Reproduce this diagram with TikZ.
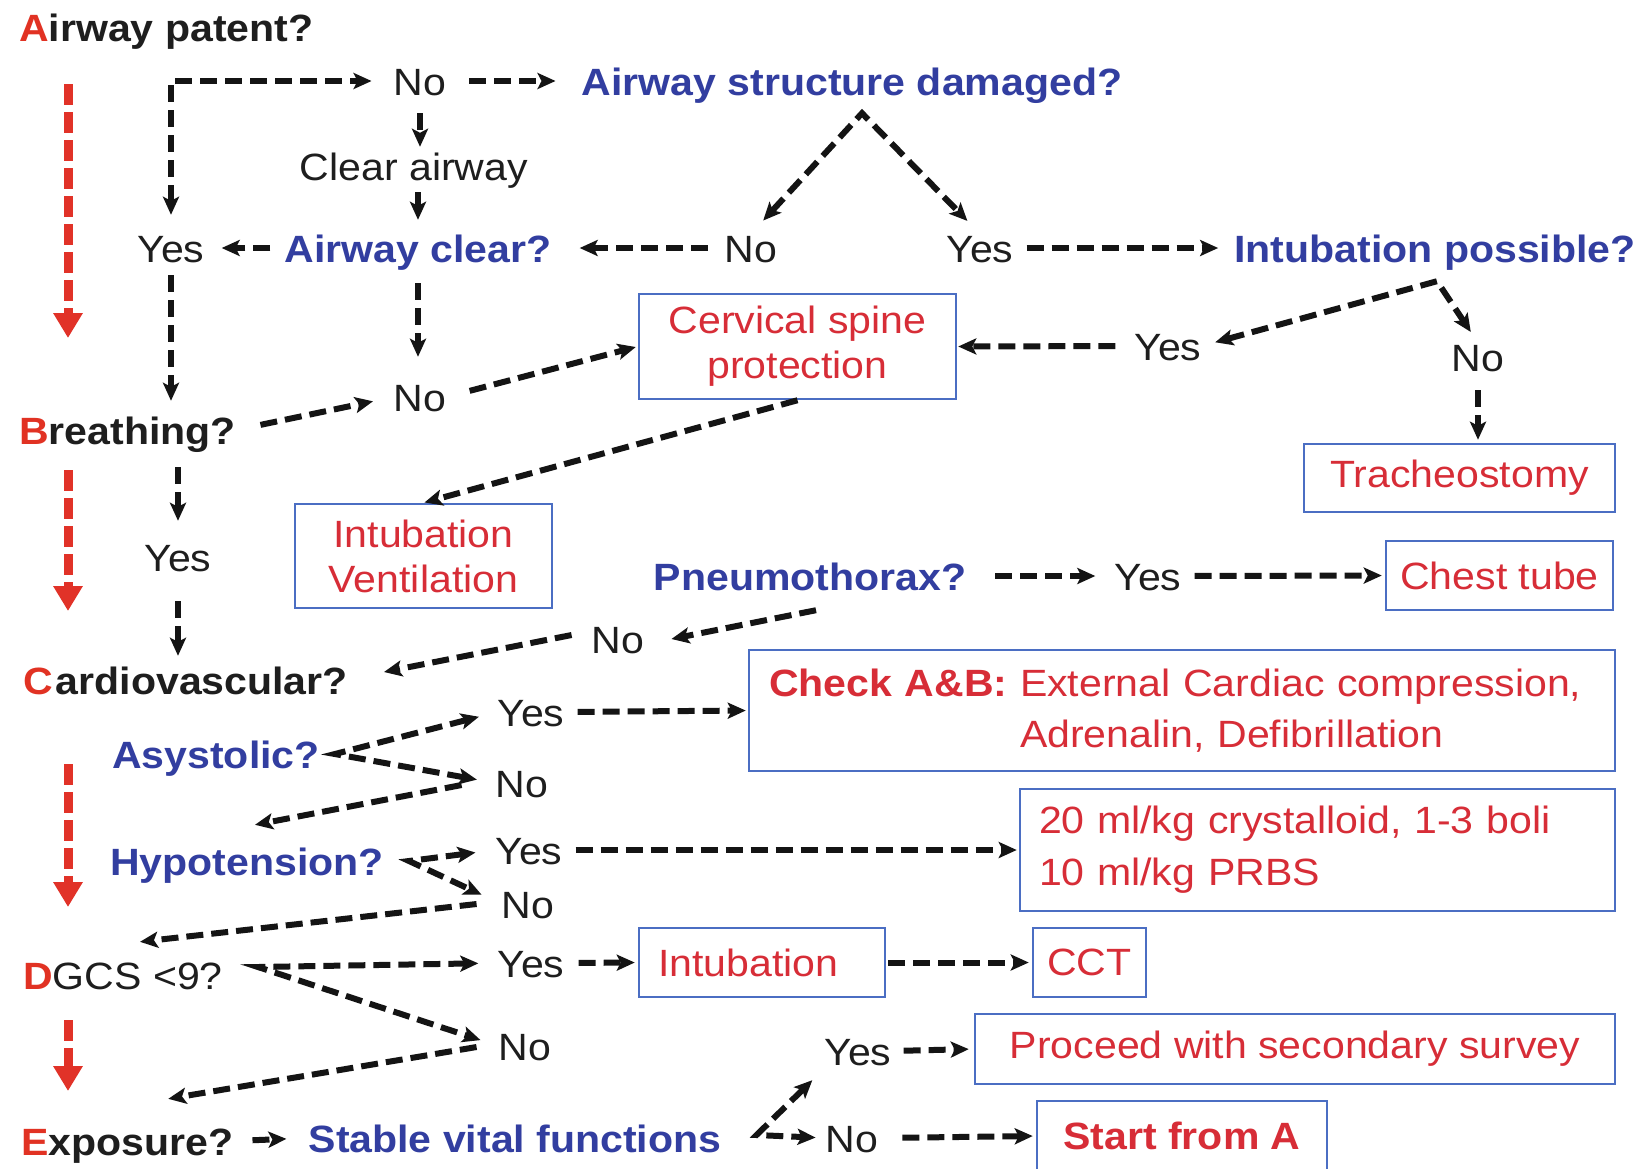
\documentclass[tikz,border=0pt]{standalone}
\usepackage{fontspec}
\setmainfont{Liberation Sans}[FakeStretch=1.08]
\usetikzlibrary{arrows.meta,calc}
\definecolor{qblue}{RGB}{50,62,160}
\definecolor{tred}{RGB}{225,50,35}
\definecolor{bred}{RGB}{215,45,55}
\definecolor{bblue}{RGB}{75,110,195}
\definecolor{txt}{RGB}{30,30,30}
\definecolor{arrred}{RGB}{225,50,40}
\definecolor{arrblk}{RGB}{20,20,20}
\begin{document}
\begin{tikzpicture}[x=1pt,y=-1pt,
  font=\fontsize{38}{45}\selectfont,
  >={Stealth[length=18pt,width=16pt,inset=4pt]},
  lbl/.style={inner sep=0pt, text height=28pt, text depth=0pt, text=txt},
  ttl/.style={lbl, font=\fontsize{38}{45}\selectfont\bfseries, anchor=west},
  q/.style={lbl, font=\fontsize{38}{45}\selectfont\bfseries, text=qblue},
  box/.style={draw=bblue, line width=2.5pt, inner sep=0pt, text=bred, align=center},
  darr/.style={draw=arrblk, line width=6pt, dash pattern=on 17pt off 8pt, ->},
  rarr/.style={draw=arrred, line width=9pt, dash pattern=on 21pt off 7pt, -{Triangle[length=25pt,width=28pt]}}]
\fill[white] (0,0) rectangle (1645,1168);
\useasboundingbox (0,0) rectangle (1645,1168);

% ---- nodes ----
\node[ttl] (tA) at (19,27) {\textcolor{tred}{A}irway patent?};
\node[lbl] (noA) at (420,81) {No};
\node[q] (asd) at (852,81) {Airway structure damaged?};
\node[lbl] (clear) at (414,166) {Clear airway};
\node[q] (ac) at (418,248) {Airway clear?};
\node[lbl] (yesA) at (171,248) {Yes};
\node[lbl] (noD) at (751,248) {No};
\node[lbl] (yesD) at (980,248) {Yes};
\node[q] (ip) at (1435,248) {Intubation possible?};
\node[lbl] (noB) at (420,397) {No};
\node[ttl] (breath) at (19,430) {\textcolor{tred}{B}reathing?};
\node[box, minimum width=317pt, minimum height=105pt] (csp) at (797.5,346.5) {Cervical spine\\protection};
\node[lbl] (yesI) at (1168,346) {Yes};
\node[lbl] (noI) at (1478,357) {No};
\node[box, minimum width=311pt, minimum height=68pt] (trach) at (1459.5,478) {Tracheostomy};
\node[box, minimum width=257pt, minimum height=104pt] (iv) at (423.5,556) {Intubation\\Ventilation};
\node[lbl] (yesB) at (178,557) {Yes};
\node[ttl] (card) at (23,680) {\textcolor{tred}{C}\kern3pt ardiovascular?};
\node[q] (pneu) at (810,576) {Pneumothorax?};
\node[lbl] (yesP) at (1148,576) {Yes};
\node[box, minimum width=227pt, minimum height=69pt] (chest) at (1499.5,575.5) {Chest tube};
\node[lbl] (noP) at (618,639) {No};
\node[q, anchor=west] (asys) at (112,754) {Asystolic?};
\node[lbl] (yesC) at (531,712) {Yes};
\node[lbl] (noC) at (522,783) {No};
\node[box, minimum width=866pt, minimum height=121pt, text width=826pt, inner xsep=20pt, align=left] (chk) at (1182,710.5)
  {\textbf{Check A\&B:} External Cardiac compression,\\[6pt]\hphantom{\textbf{Check A\&B:}\ }Adrenalin, Defibrillation};
\node[q, anchor=west] (hypo) at (110,861) {Hypotension?};
\node[lbl] (yesH) at (529,850) {Yes};
\node[lbl] (noH) at (528,904) {No};
\node[box, minimum width=595pt, minimum height=122pt, text width=557pt, inner xsep=19pt, align=left] (fluid) at (1317.5,850)
  {20 ml/kg crystalloid, 1-3 boli\\[7pt]10 ml/kg PRBS};
\node[ttl, font=\fontsize{38}{45}\selectfont] (dgcs) at (23,975) {\textcolor{tred}{\bfseries D}GCS <9?};
\node[lbl] (yesG) at (531,963) {Yes};
\node[lbl] (noG) at (525,1046) {No};
\node[box, minimum width=246pt, minimum height=69pt, text width=208pt, inner xsep=19pt, align=left] (intu) at (762,962.5) {Intubation};
\node[box, minimum width=113pt, minimum height=69pt] (cct) at (1089.5,962.5) {CCT};
\node[ttl] (expo) at (21,1141) {\textcolor{tred}{E}xposure?};
\node[q] (stable) at (515,1138) {Stable vital functions};
\node[lbl] (yesS) at (858,1051) {Yes};
\node[lbl] (noS) at (852,1138) {No};
\node[box, minimum width=640pt, minimum height=70pt] (proc) at (1295,1049) {Proceed with secondary survey};
\node[box, minimum width=290pt, minimum height=70pt, font=\fontsize{38}{45}\selectfont\bfseries] (start) at (1182,1136) {Start from A};

% ---- red ABCDE arrows ----
\coordinate (r1s) at (68,84);   \coordinate (r1e) at (68,338);
\coordinate (r2s) at (68,470);  \coordinate (r2e) at (68,611);
\coordinate (r3s) at (68,764);  \coordinate (r3e) at (68,907);
\coordinate (r4s) at (68,1020); \coordinate (r4e) at (68,1091);
\draw[rarr] (r1s) -- (r1e);
\draw[rarr] (r2s) -- (r2e);
\draw[rarr] (r3s) -- (r3e);
\draw[rarr] (r4s) -- (r4e);

% ---- connectors ----
\draw[darr,<->,shorten <=19pt,shorten >=22pt] (yesA.north) |- (noA.west);
\draw[darr,shorten <=23pt,shorten >=26pt] (noA.east) -- (asd.west);
\draw[darr,shorten <=18pt,shorten >=5pt] (noA.south) -- (noA.south |- clear.north);
\draw[darr,shorten <=12pt,shorten >=14pt] (ac.north |- clear.south) -- (ac.north);
\draw[darr,shorten <=14pt,shorten >=17pt] (ac.west) -- (yesA.east);
\draw[darr,shorten <=17pt,shorten >=28pt] (noD.west) -- (ac.east);
\draw[darr,shorten <=13pt,shorten >=16pt] (yesD.east) -- (ip.west);
\coordinate (apxD) at ([shift={(10,18)}]asd.south);
\draw[darr,<->,shorten <=18pt,shorten >=18pt] (noD.north) -- (apxD) -- (yesD.north);
\draw[darr,shorten <=21pt,shorten >=26pt] (ac.south) -- (ac.south |- noB.north);
\draw[darr,shorten <=13pt,shorten >=15pt] (yesA.south) -- (yesA.south |- breath.north);
\draw[darr,shorten <=25pt,shorten >=21pt] (breath.east) -- (noB.west);
\draw[darr,shorten <=24pt,shorten >=2pt] (noB.east) -- (csp.west);
\draw[darr,shorten <=19pt,shorten >=1pt] (yesI.west) -- (csp.east);
\coordinate (apxI) at ([shift={(2,19)}]ip.south);
\draw[darr,<->,shorten <=14pt,shorten >=13pt] (yesI.east) -- (apxI) -- (noI.north);
\draw[darr,shorten <=19pt,shorten >=3pt] (noI.south) -- (noI.south |- trach.north);
\draw[darr,shorten >=1pt] (csp.south) -- (iv.north);
\draw[darr,shorten <=23pt,shorten >=22pt] (yesB.north |- breath.south) -- (yesB.north);
\draw[darr,shorten <=30pt,shorten >=10pt] (yesB.south) -- (yesB.south |- card.north);
\draw[darr,shorten <=29pt,shorten >=19pt] (pneu.east) -- (yesP.west);
\draw[darr,shorten <=13pt,shorten >=3pt] (yesP.east) -- (chest.west);
\draw[darr] ([shift={(6,20)}]pneu.south) -- ([shift={(27,0)}]noP.east);
\draw[darr] ([shift={(-20,-4)}]noP.west) -- ([shift={(36,-8)}]card.east);
\coordinate (apxC) at ([shift={(15,0)}]asys.east);
\draw[darr,<->,shorten <=19pt,shorten >=19pt] (yesC.west) -- (apxC) -- (noC.west);
\draw[darr,shorten <=13pt,shorten >=2pt] (yesC.east) -- (chk.west);
\draw[darr] ([shift={(-34,2)}]noC.west) -- ([shift={(8,-22)}]hypo.north);
\coordinate (apxH) at ([shift={(25,0)}]hypo.east);
\draw[darr,<->,shorten <=20pt,shorten >=22pt] (yesH.west) -- (apxH) -- (noH.west);
\draw[darr,shorten <=13pt,shorten >=2pt] (yesH.east) -- (fluid.west);
\draw[darr] ([shift={(-25,0)}]noH.west) -- ([shift={(17,-19)}]dgcs.north);
\coordinate (apxG) at ([shift={(35,-8)}]dgcs.east);
\draw[darr,<->,shorten <=19pt,shorten >=19pt] (yesG.west) -- (apxG) -- (noG.west);
\draw[darr,shorten <=14pt,shorten >=3pt] (yesG.east) -- (intu.west);
\draw[darr,shorten <=2pt,shorten >=3pt] (intu.east) -- (cct.west);
\draw[darr] ([shift={(-22,1)}]noG.west) -- ([shift={(41,-28)}]expo.north);
\draw[darr,shorten <=19pt,shorten >=22pt] (expo.east) -- (stable.west);
\coordinate (apxS) at ([shift={(35,-3)}]stable.east);
\draw[darr,<->,shorten >=10pt] ([shift={(-12,15)}]yesS.south west) -- (apxS) -- (noS.west);
\draw[darr,shorten <=12pt,shorten >=5pt] (yesS.east) -- (proc.west);
\draw[darr,shorten <=24pt,shorten >=3pt] (noS.east) -- (start.west);
\end{tikzpicture}
\end{document}
